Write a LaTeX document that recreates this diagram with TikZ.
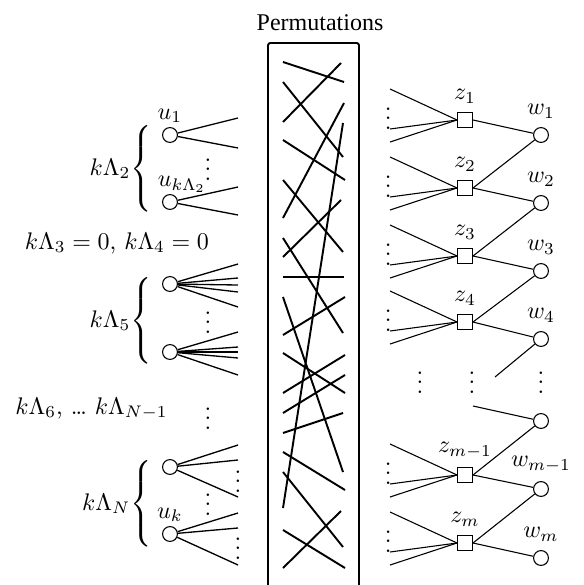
\documentclass[tikz,border=0pt]{standalone}
\usepackage[no-math]{fontspec}
\newfontfamily\permfont{Liberation Serif}
\usepackage{tikz}

\tikzset{
  unode/.style={draw,circle,inner sep=0pt,minimum size=6.2pt,line width=0.45pt},
  znode/.style={draw,rectangle,inner sep=0pt,minimum size=6.2pt,line width=0.45pt},
  vd/.style={inner sep=0pt,anchor=south,yshift=-4.5pt},
  brc/.style={inner sep=0pt,anchor=base east},
  perm/.style={line width=0.8pt},
  fan/.style={line width=0.55pt},
  edge/.style={line width=0.45pt},
}

\begin{document}
\begin{tikzpicture}[x=0.4167pt,y=-0.4167pt]
  \useasboundingbox (0,0) rectangle (584,585);

  \node[font=\permfont,anchor=base] (title) at (320,30) {Permutations};
  \draw[line width=0.8pt,rounded corners=1pt] (268,585) -- (268,43) -- (359,43) -- (359,585);
  \foreach \a/\b/\c/\d in {283/62/344/82, 283/122/341/63, 283/82/343/157, 283/140/345/180,
      283/218/344/103, 283/180/343/252, 283/257/341/200, 283/238/343/333, 283/277/344/277,
      343/123/283/508, 283/297/343/472, 283/335/345/297, 283/353/345/393, 283/393/345/355,
      283/413/345/375, 283/433/343/413, 283/452/345/490, 283/472/343/547, 283/530/345/568,
      283/568/341/511}
    \draw[perm] (\a,\b) -- (\c,\d);

  % left side
  \node[brc] (lam2) at (155,175) {$k\Lambda_2{\left\{\vrule height 20pt depth 15pt width 0pt\right.}$};
  \node[unode,label={[inner sep=1.5pt]above:$u_1$}] (u1) at (170,135) {};
  \node[unode] (u2) at (170,202) {};
  \node[inner sep=0pt,anchor=south] (u2lbl) at (182,193) {$u_{k\Lambda_2}$};
  \foreach \e in {-17,13} \draw[fan] (u1) -- ++(68,\e);
  \foreach \e in {-15,13} \draw[fan] (u2) -- ++(68,\e);
  \node[vd] (d2) at (208,170) {$\vdots$};

  \node[anchor=base,inner sep=0pt] (lam34) at (117,249) {$k\Lambda_3=0$, $k\Lambda_4=0$};

  \node[brc] (lam5) at (155,327) {$k\Lambda_5{\left\{\vrule height 20pt depth 15pt width 0pt\right.}$};
  \node[unode] (u3) at (170,284) {};
  \node[unode] (u4) at (170,352) {};
  \foreach \e in {-20,-6,1,8,23} \draw[fan] (u3) -- ++(68,\e);
  \foreach \e in {-20,-5,0,6,23} \draw[fan] (u4) -- ++(68,\e);
  \node[vd] (d5) at (208,323) {$\vdots$};

  \node[anchor=base west,inner sep=0pt] (lam6) at (15,414) {$k\Lambda_6$, \dots\ $k\Lambda_{N-1}$};
  \node[vd] (d6) at (208,419) {$\vdots$};

  \node[brc] (lamN) at (155,510) {$k\Lambda_N{\left\{\vrule height 20pt depth 15pt width 0pt\right.}$};
  \node[unode] (u5) at (170,467) {};
  \node[unode,label={[inner sep=1.5pt]above:$u_k$}] (u6) at (170,534) {};
  \foreach \e in {-22,-7,30} \draw[fan] (u5) -- ++(68,\e);
  \foreach \e in {-21,-6,31} \draw[fan] (u6) -- ++(68,\e);
  \node[vd] (dN) at (208,505) {$\vdots$};
  \node[vd] (d7) at (238,482) {$\vdots$};
  \node[vd] (d8) at (238,549) {$\vdots$};

  % right side
  \node[znode,label=above:$z_1$] (z1) at (465,120) {};
  \node[znode,label=above:$z_2$] (z2) at (465,188) {};
  \node[znode,label=above:$z_3$] (z3) at (465,256) {};
  \node[znode,label=above:$z_4$] (z4) at (465,322) {};
  \node[znode,label=above:$z_{m-1}$] (zm1) at (465,475) {};
  \node[znode,label=above:$z_m$] (zm) at (465,543) {};

  \node[unode,label=above:$w_1$] (w1) at (541,135) {};
  \node[unode,label=above:$w_2$] (w2) at (541,203) {};
  \node[unode,label=above:$w_3$] (w3) at (541,271) {};
  \node[unode,label=above:$w_4$] (w4) at (541,339) {};
  \node[unode] (wx) at (541,421) {};
  \node[unode,label=above:$w_{m-1}$] (wm1) at (541,489) {};
  \node[unode,label=above:$w_m$] (wm) at (541,558) {};

  \foreach \k in {z1,z2,z3,z4,zm1,zm} {
    \foreach \e in {-31,9,22} \draw[edge] (\k.west) -- ++(-67,\e);
    \node[vd] (\k dots) at ([xshift=-32pt,yshift=0.4pt]\k.center) {$\vdots$};
  }

  \draw[edge] (z1.east) -- (w1);
  \draw[edge] (z2.east) -- (w1);
  \draw[edge] (z2.east) -- (w2);
  \draw[edge] (z3.east) -- (w2);
  \draw[edge] (z3.east) -- (w3);
  \draw[edge] (z4.east) -- (w3);
  \draw[edge] (z4.east) -- (w4);
  \coordinate (w4end) at (495,377);
  \coordinate (wxstart) at (473,406);
  \draw[edge] (w4) -- (w4end);
  \draw[edge] (wxstart) -- (wx);
  \draw[edge] (zm1.east) -- (wx);
  \draw[edge] (zm1.east) -- (wm1);
  \draw[edge] (zm.east) -- (wm1);
  \draw[edge] (zm.east) -- (wm);

  \node[vd] (mid1) at (420,383) {$\vdots$};
  \node[vd] (mid2) at (472,383) {$\vdots$};
  \node[vd] (mid3) at (541,383) {$\vdots$};
\end{tikzpicture}
\end{document}
